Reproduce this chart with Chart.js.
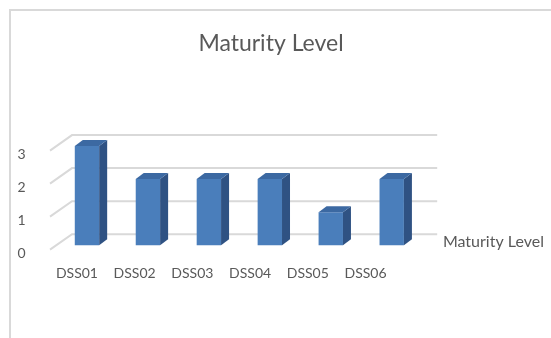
<!DOCTYPE html>
<html>
<head>
<meta charset="utf-8">
<title>Maturity Level</title>
<script src="https://cdn.jsdelivr.net/npm/chart.js@4"></script>
<style>
  html, body { margin: 0; padding: 0; background: #fff; }
  #wrap { position: relative; width: 551px; height: 338px; overflow: hidden; }
  #frame { position: absolute; left: 9px; top: 9px; width: 620px; height: 420px; border: 2px solid #d9d9d9; }
  #maturity { position: absolute; left: 0; top: 0; }
</style>
</head>
<body>
<div id="wrap">
  <div id="frame"></div>
  <canvas id="maturity" width="551" height="338"></canvas>
</div>
<script>
// Data ==============================================================
const categories = ['DSS01', 'DSS02', 'DSS03', 'DSS04', 'DSS05', 'DSS06'];
const maturityValues = [3, 2, 2, 2, 1, 2];
const seriesName = 'Maturity Level';
const yTickValues = [0, 1, 2, 3];

// Look ==============================================================
const textColor = '#595959';
const gridColor = '#d9d9d9';
const frontColor = '#4a7ebb';
const sideColor = '#2f5283';
const topColor = '#3c69a2';
const depthX = 8;   // bar depth, to the right
const depthY = 6;   // bar depth, upwards
const fontFamily = 'Lato, "Open Sans", sans-serif';

// 3D-ish floor/back wall grid and the bar side/top faces
const bar3d = {
    id: 'bar3d',
    beforeDatasetsDraw(chart) {
        const ctx = chart.ctx;
        const area = chart.chartArea;
        const yS = chart.scales.y;
        ctx.save();
        ctx.strokeStyle = gridColor;
        ctx.lineWidth = 2;
        yTickValues.forEach(v => {
            const p = yS.getPixelForValue(v);
            ctx.beginPath();
            ctx.moveTo(area.left - 6.5, p + 4.5);
            ctx.lineTo(area.left + 15.5, p - 11);
            ctx.lineTo(area.right + 15, p - 11);
            ctx.stroke();
        });
        ctx.restore();
    },
    afterDatasetsDraw(chart) {
        const ctx = chart.ctx;
        ctx.save();
        chart.getDatasetMeta(0).data.forEach(bar => {
            const { x, y, base, width } = bar.getProps(['x', 'y', 'base', 'width'], true);
            const l = x - width / 2;
            const r = x + width / 2;
            // side face
            ctx.fillStyle = sideColor;
            ctx.beginPath();
            ctx.moveTo(r, y);
            ctx.lineTo(r + depthX, y - depthY);
            ctx.lineTo(r + depthX, base - depthY);
            ctx.lineTo(r, base);
            ctx.closePath();
            ctx.fill();
            // top face
            ctx.fillStyle = topColor;
            ctx.beginPath();
            ctx.moveTo(l, y);
            ctx.lineTo(l + depthX, y - depthY);
            ctx.lineTo(r + depthX, y - depthY);
            ctx.lineTo(r, y);
            ctx.closePath();
            ctx.fill();
        });
        ctx.restore();
    }
};

// Chart =============================================================
const ctx = document.getElementById('maturity').getContext('2d');
new Chart(ctx, {
    type: 'bar',
    data: {
        labels: categories,
        datasets: [{
            label: seriesName,
            data: maturityValues,
            backgroundColor: frontColor,
            borderWidth: 0,
            categoryPercentage: 0.8,
            barPercentage: 0.5
        }]
    },
    options: {
        responsive: false,
        animation: false,
        layout: {
            padding: { top: 0, left: -9, right: 0, bottom: 41.3 }
        },
        plugins: {
            title: {
                display: true,
                text: 'Maturity Level',
                color: textColor,
                font: { family: fontFamily, size: 23, weight: 'normal' },
                padding: { top: 30, bottom: 72 }
            },
            legend: {
                display: true,
                position: 'right',
                align: 'end',
                fullSize: false,
                maxWidth: 128.8,
                labels: {
                    color: textColor,
                    font: { family: fontFamily, size: 16 },
                    boxWidth: 6,
                    boxHeight: 0,
                    padding: 6.7
                }
            },
            tooltip: { enabled: false }
        },
        scales: {
            x: { type: 'category', display: false },
            y: { type: 'linear', display: false, min: -0.35, max: 3.5 },
            xLabels: {
                type: 'linear',
                position: 'bottom',
                bounds: 'data',
                offset: false,
                min: -0.354,
                max: 5.982,
                grid: { display: false, drawTicks: false, offset: false },
                border: { display: false },
                ticks: {
                    padding: 8.8,
                    color: textColor,
                    font: { family: fontFamily, size: 14 },
                    callback: v => categories[v]
                },
                afterBuildTicks: s => { s.ticks = categories.map((c, i) => ({ value: i })); },
                afterFit: s => { s.height = 40; }
            },
            yLabels: {
                type: 'linear',
                position: 'left',
                bounds: 'data',
                offset: false,
                min: -0.098,
                max: 3.752,
                grid: { display: false, drawTicks: false },
                border: { display: false },
                ticks: {
                    padding: 31,
                    color: textColor,
                    font: { family: fontFamily, size: 14 }
                },
                afterBuildTicks: s => { s.ticks = yTickValues.map(v => ({ value: v })); },
                afterFit: s => { s.width = 65.5; }
            }
        }
    },
    plugins: [bar3d]
});
</script>
</body>
</html>
